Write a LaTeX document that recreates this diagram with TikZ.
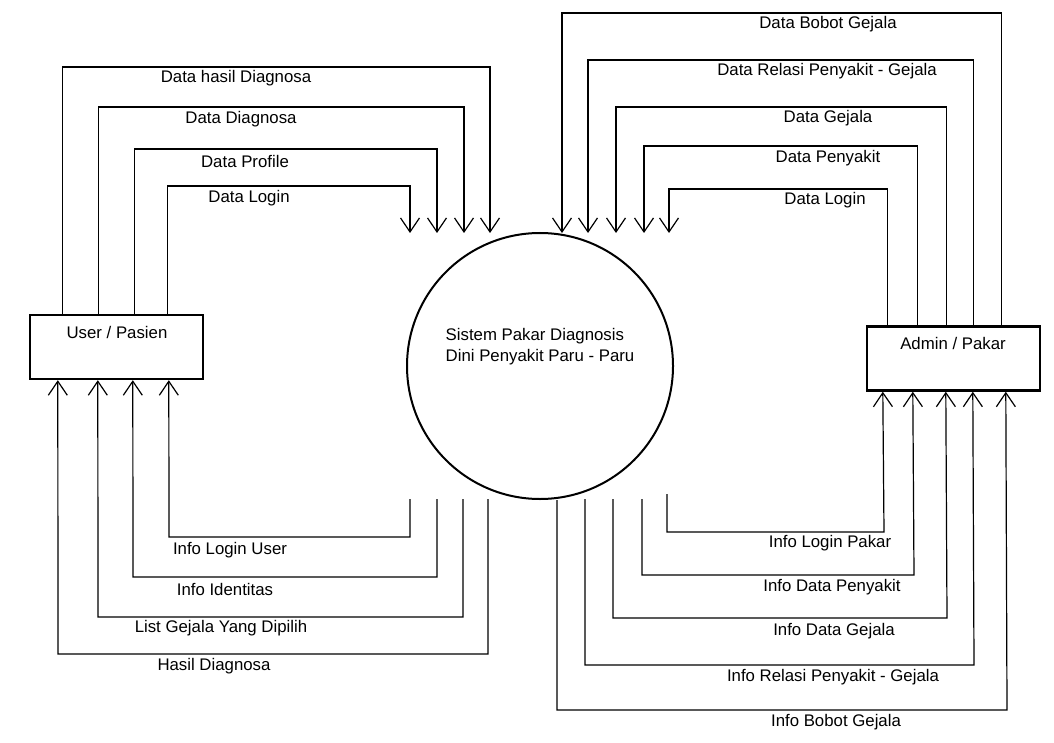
\documentclass[tikz,border=0pt]{standalone}
\usepackage{fontspec}
\setmainfont{Liberation Sans}
\usetikzlibrary{arrows.meta}
\begin{document}
\begin{tikzpicture}[x=1pt,y=-1pt,
  every node/.style={font=\fontsize{16.8}{21}\selectfont, inner sep=0pt},
  entity/.style={draw, line width=2.4pt, minimum width=173pt, minimum height=64pt},
  proc/.style={draw, circle, line width=2pt, minimum size=266pt},
  flow/.style={line width=1.2pt, -{Straight Barb[length=14pt,width=19pt]}},
  lbl/.style={anchor=center}]
\useasboundingbox (0,0) rectangle (1054,743);

% main elements
\node[entity] (user) at (116.5,347) {};
\node[lbl] (userT) at (117,332) {User / Pasien};
\node[entity] (admin) at (953.5,358.5) {};
\node[lbl] (adminT) at (953,343) {Admin / Pakar};
\node[proc] (sys) at (540,366) {};
\node[lbl, align=left] (sysT) at (540,347) {Sistem Pakar Diagnosis\\Dini Penyakit Paru - Paru};

% arrow tips above the process
\coordinate (tL1) at (410,233);
\coordinate (tL2) at (437,233);
\coordinate (tL3) at (464,233);
\coordinate (tL4) at (490,233);
\coordinate (tR1) at (669,233);
\coordinate (tR2) at (644,233);
\coordinate (tR3) at (616,233);
\coordinate (tR4) at (588,233);
\coordinate (tR5) at (562,233);

% starts below the process
\coordinate (bL1) at (410,499);
\coordinate (bL2) at (437,499);
\coordinate (bL3) at (463,499);
\coordinate (bL4) at (488,499);
\coordinate (bR1) at (667,494);
\coordinate (bR2) at (642,499);
\coordinate (bR3) at (613,499);
\coordinate (bR4) at (585,499);
\coordinate (bR5) at (557,500);

% user -> system
\draw[flow] ([xshift=34pt]user.north west) |- (490,67) -- (tL4);
\draw[flow] ([xshift=70pt]user.north west) |- (464,107) -- (tL3);
\draw[flow] ([xshift=106pt]user.north west) |- (437,149) -- (tL2);
\draw[flow] ([xshift=139pt]user.north west) |- (410,186) -- (tL1);
\node[lbl] (l1) at (236,78) {Data hasil Diagnosa};
\node[lbl] (l2) at (241,119) {Data Diagnosa};
\node[lbl] (l3) at (245,161) {Data Profile};
\node[lbl] (l4) at (249,198) {Data Login};

% system -> user
\draw[flow] (bL1) |- (169,537) -- ([xshift=140pt]user.south west);
\draw[flow] (bL2) |- (133,577) -- ([xshift=104pt]user.south west);
\draw[flow] (bL3) |- (98,617) -- ([xshift=69pt]user.south west);
\draw[flow] (bL4) |- (58,654) -- ([xshift=29pt]user.south west);
\node[lbl] (l5) at (230,550) {Info Login User};
\node[lbl] (l6) at (225,589) {Info Identitas};
\node[lbl] (l7) at (221,628) {List Gejala Yang Dipilih};
\node[lbl] (l8) at (214,666) {Hasil Diagnosa};

% admin -> system
\draw[flow] ([xshift=22pt]admin.north west) |- (669,189) -- (tR1);
\draw[flow] ([xshift=52pt]admin.north west) |- (644,146) -- (tR2);
\draw[flow] ([xshift=81pt]admin.north west) |- (616,107) -- (tR3);
\draw[flow] ([xshift=108pt]admin.north west) |- (588,60) -- (tR4);
\draw[flow] ([xshift=136pt]admin.north west) |- (562,13) -- (tR5);
\node[lbl] (r1) at (825,200) {Data Login};
\node[lbl] (r2) at (828,158) {Data Penyakit};
\node[lbl] (r3) at (828,118) {Data Gejala};
\node[lbl] (r4) at (827,71) {Data Relasi Penyakit - Gejala};
\node[lbl] (r5) at (828,24) {Data Bobot Gejala};

% system -> admin
\draw[flow] (bR1) |- (884,532) -- ([xshift=17pt]admin.south west);
\draw[flow] (bR2) |- (914,575) -- ([xshift=47pt]admin.south west);
\draw[flow] (bR3) |- (947,618) -- ([xshift=80pt]admin.south west);
\draw[flow] (bR4) |- (974,665) -- ([xshift=107pt]admin.south west);
\draw[flow] (bR5) |- (1007,710) -- ([xshift=140pt]admin.south west);
\node[lbl] (r6) at (830,543) {Info Login Pakar};
\node[lbl] (r7) at (832,587) {Info Data Penyakit};
\node[lbl] (r8) at (834,631) {Info Data Gejala};
\node[lbl] (r9) at (833,677) {Info Relasi Penyakit - Gejala};
\node[lbl] (r10) at (836,722) {Info Bobot Gejala};
\end{tikzpicture}
\end{document}
